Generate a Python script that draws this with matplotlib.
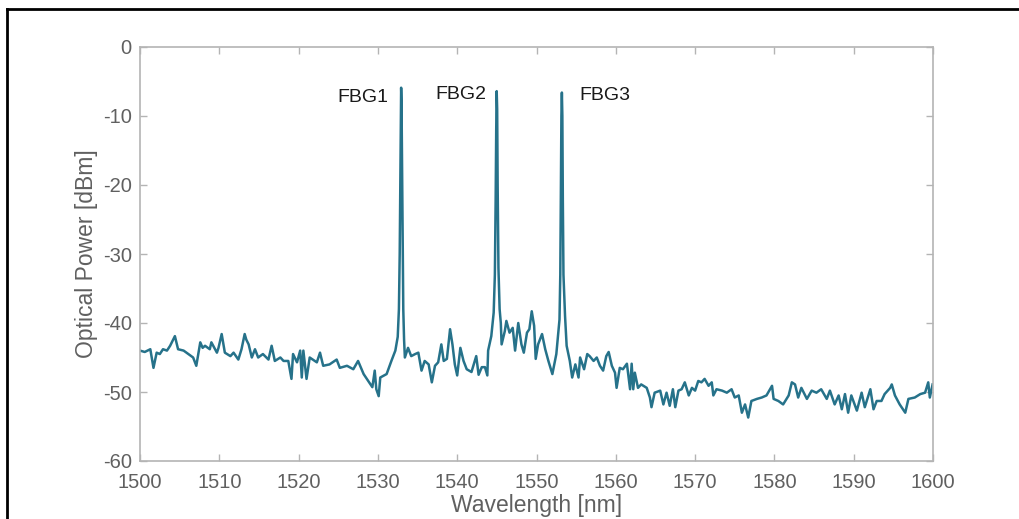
import matplotlib
matplotlib.use("Agg")
import matplotlib.pyplot as plt
from matplotlib.lines import Line2D

plt.rcParams["axes.unicode_minus"] = False

# ─── Data ────────────────────────────────────────────────────────────────────
WAVELENGTH = [
    1500.0, 1500.6, 1501.3, 1501.7, 1502.1, 1502.5, 1502.9, 1503.4, 1503.8, 1504.4,
    1504.8, 1505.5, 1506.1, 1506.7, 1507.1, 1507.6, 1507.9, 1508.2, 1508.8, 1509.0,
    1509.7, 1509.9, 1510.3, 1510.7, 1511.4, 1511.8, 1512.4, 1512.8, 1513.2, 1513.4,
    1513.7, 1514.1, 1514.5, 1514.9, 1515.5, 1516.2, 1516.6, 1517.0, 1517.7, 1518.1,
    1518.7, 1519.1, 1519.3, 1519.8, 1520.2, 1520.4, 1520.6, 1521.0, 1521.4, 1522.3,
    1522.7, 1523.1, 1523.9, 1524.8, 1525.2, 1526.1, 1526.9, 1527.5, 1528.2, 1529.0,
    1529.3, 1529.6, 1529.8, 1530.1, 1530.3, 1531.1, 1531.7, 1532.2, 1532.5, 1532.65,
    1532.75, 1532.82, 1532.88, 1532.93, 1532.98, 1533.05, 1533.12, 1533.2, 1533.3, 1533.4,
    1533.8, 1534.2, 1534.7, 1535.1, 1535.5, 1535.9, 1536.4, 1536.8, 1537.2, 1537.6,
    1538.0, 1538.3, 1538.7, 1539.1, 1539.4, 1539.7, 1540.0, 1540.4, 1540.8, 1541.2,
    1541.8, 1542.4, 1542.7, 1543.1, 1543.5, 1543.8, 1543.9, 1544.3, 1544.6, 1544.75,
    1544.85, 1544.92, 1544.98, 1545.04, 1545.1, 1545.2, 1545.35, 1545.5, 1545.6, 1546.0,
    1546.2, 1546.6, 1547.0, 1547.3, 1547.7, 1548.1, 1548.4, 1548.8, 1549.1, 1549.4,
    1549.7, 1549.9, 1550.2, 1550.7, 1551.1, 1551.5, 1552.0, 1552.5, 1552.9, 1553.0,
    1553.08, 1553.14, 1553.2, 1553.26, 1553.32, 1553.4, 1553.6, 1553.8, 1554.2, 1554.5,
    1554.9, 1555.3, 1555.5, 1556.0, 1556.4, 1556.7, 1557.2, 1557.6, 1558.0, 1558.4,
    1558.8, 1559.1, 1559.5, 1559.9, 1560.1, 1560.5, 1560.9, 1561.4, 1561.8, 1562.0,
    1562.2, 1562.4, 1562.8, 1563.2, 1563.9, 1564.3, 1564.5, 1564.9, 1565.6, 1566.0,
    1566.4, 1566.8, 1567.2, 1567.5, 1567.9, 1568.3, 1568.7, 1569.2, 1569.6, 1570.0,
    1570.4, 1570.8, 1571.2, 1571.7, 1572.1, 1572.3, 1572.7, 1573.4, 1574.0, 1574.6,
    1575.0, 1575.5, 1575.9, 1576.3, 1576.7, 1577.1, 1577.8, 1578.4, 1579.0, 1579.7,
    1579.9, 1580.5, 1581.1, 1581.8, 1582.2, 1582.6, 1583.0, 1583.4, 1584.1, 1584.7,
    1585.3, 1585.9, 1586.6, 1587.0, 1587.6, 1588.1, 1588.5, 1588.9, 1589.3, 1589.7,
    1590.4, 1591.0, 1591.4, 1592.1, 1592.5, 1592.9, 1593.5, 1593.9, 1594.6, 1594.8,
    1595.2, 1595.8, 1596.5, 1596.9, 1597.7, 1598.4, 1599.0, 1599.4, 1599.6, 1599.95,
]
POWER = [
    -44.0, -44.2, -43.8, -46.5, -44.3, -44.5, -43.8, -44.0, -43.3, -41.9,
    -43.8, -44.0, -44.5, -45.0, -46.2, -42.8, -43.6, -43.3, -43.8, -42.8,
    -44.3, -43.6, -41.6, -44.3, -44.8, -44.3, -45.3, -43.8, -41.6, -42.4,
    -43.1, -45.0, -43.8, -45.0, -44.5, -45.3, -43.3, -45.5, -45.0, -45.5,
    -45.5, -48.1, -44.5, -45.7, -44.0, -47.9, -44.0, -48.1, -45.0, -45.7,
    -44.3, -46.2, -46.0, -45.3, -46.5, -46.2, -46.7, -45.5, -47.4, -48.8,
    -49.3, -46.9, -49.6, -50.6, -47.9, -47.4, -45.5, -44.0, -42.0, -38.0,
    -30.0, -20.0, -10.0, -5.9, -8.0, -18.0, -30.0, -38.0, -42.4, -45.0,
    -43.6, -44.8, -44.5, -44.3, -46.9, -45.5, -46.0, -48.6, -46.2, -45.7,
    -43.1, -45.5, -45.2, -40.9, -43.1, -46.0, -47.6, -43.6, -45.5, -46.7,
    -47.1, -44.8, -47.5, -46.4, -46.4, -47.6, -44.0, -41.9, -38.5, -33.0,
    -22.0, -12.0, -6.4, -9.0, -20.0, -32.0, -38.0, -40.0, -43.1, -41.2,
    -39.7, -41.4, -40.7, -44.0, -40.0, -43.1, -44.3, -41.4, -40.9, -38.3,
    -40.4, -45.2, -43.1, -41.6, -43.8, -45.5, -47.4, -44.5, -39.5, -33.0,
    -20.0, -10.0, -6.6, -10.0, -22.0, -33.0, -39.0, -43.3, -45.5, -47.9,
    -46.0, -47.9, -45.0, -46.7, -44.5, -44.8, -45.5, -45.0, -46.2, -46.9,
    -44.8, -44.2, -46.2, -47.2, -49.4, -46.5, -46.7, -45.9, -49.6, -45.9,
    -49.6, -47.2, -49.4, -48.9, -49.4, -50.8, -52.2, -50.1, -49.8, -51.8,
    -50.1, -52.0, -49.6, -52.2, -49.8, -49.6, -48.6, -50.5, -49.4, -49.8,
    -48.4, -48.6, -48.1, -49.1, -48.6, -50.5, -49.6, -49.8, -50.1, -49.6,
    -50.8, -50.5, -53.0, -51.8, -53.7, -51.3, -51.0, -50.8, -50.5, -49.1,
    -51.0, -51.3, -51.8, -50.5, -48.6, -48.9, -50.8, -49.4, -51.0, -49.8,
    -50.1, -49.6, -51.0, -49.8, -51.8, -50.5, -52.5, -50.3, -53.0, -50.5,
    -52.7, -50.1, -52.2, -49.6, -52.5, -51.3, -51.3, -50.3, -49.4, -48.9,
    -50.5, -51.8, -53.0, -51.0, -50.8, -50.3, -50.1, -48.6, -50.8, -48.9,
]

PEAK_LABELS = ["FBG1", "FBG2", "FBG3"]
LABEL_X = [1531.3, 1537.2, 1555.4]
LABEL_Y = [-7.3, -6.9, -7.1]
LABEL_HA = ["right", "left", "left"]

X_TICKS = list(range(1500, 1601, 10))
Y_TICKS = list(range(-60, 1, 10))

# ─── Style ───────────────────────────────────────────────────────────────────
LINE_CLR = "#26728a"
AXIS_CLR = "#b4b4b4"
TEXT_CLR = "#606060"
FONT = "Liberation Sans"

fig = plt.figure(figsize=(10.2, 5.19), dpi=100, facecolor="white")
ax = fig.add_axes([140 / 1020, 1 - 461 / 519, 793 / 1020, 414 / 519])

ax.plot(WAVELENGTH, POWER, color=LINE_CLR, linewidth=1.8, solid_joinstyle="round")

for txt, x, y, ha in zip(PEAK_LABELS, LABEL_X, LABEL_Y, LABEL_HA):
    ax.text(x, y, txt, ha=ha, va="center", fontsize=14, color="#1a1a1a",
            fontfamily=FONT)

ax.set_xlim(1500, 1600)
ax.set_ylim(-60, 0)
ax.set_xticks(X_TICKS)
ax.set_yticks(Y_TICKS)
ax.tick_params(direction="in", length=5, width=1, color=AXIS_CLR,
               top=True, right=True, labelsize=14.5, labelcolor=TEXT_CLR)
ax.tick_params(axis="x", pad=9)
ax.tick_params(axis="y", pad=6)
for lab in ax.get_xticklabels() + ax.get_yticklabels():
    lab.set_fontfamily(FONT)
for sp in ax.spines.values():
    sp.set_color(AXIS_CLR)
    sp.set_linewidth(1.2)

ax.set_xlabel("Wavelength [nm]", fontsize=16.5, color=TEXT_CLR,
              fontfamily=FONT, labelpad=1)
ax.set_ylabel("Optical Power [dBm]", fontsize=16.5, color=TEXT_CLR,
              fontfamily=FONT, labelpad=3)

# black frame around the figure (only top and left edges fall inside the image)
fig.add_artist(Line2D([7 / 1020, 1.0], [1 - 9 / 519, 1 - 9 / 519],
                      transform=fig.transFigure, color="black", linewidth=2))
fig.add_artist(Line2D([7 / 1020, 7 / 1020], [0.0, 1 - 9 / 519],
                      transform=fig.transFigure, color="black", linewidth=2))

fig.savefig("out.png", dpi=100, facecolor="white")
